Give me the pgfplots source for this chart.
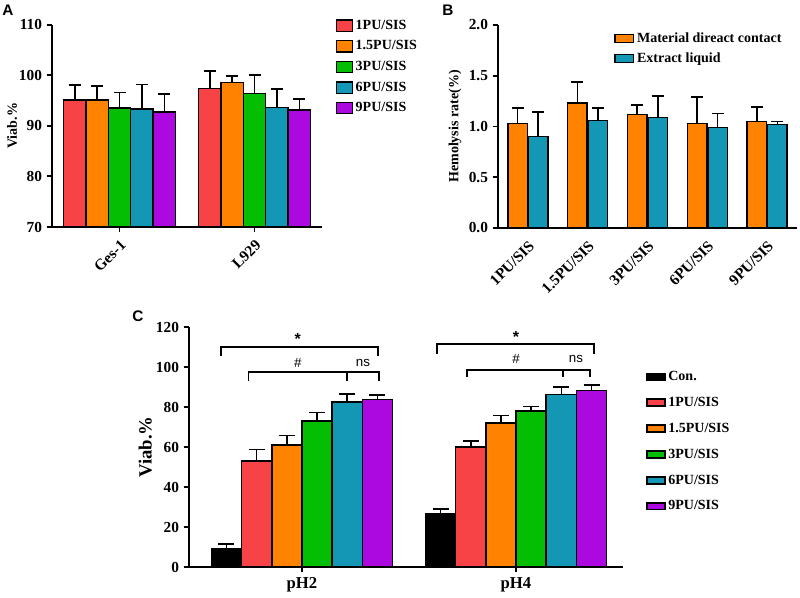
\documentclass[border=0pt]{standalone}
\usepackage{fontspec}
\setmainfont{Liberation Serif}
\newfontfamily\sansf{Liberation Sans}
\usepackage{pgfplots}
\pgfplotsset{compat=1.18}

\definecolor{cRed}{RGB}{248,67,70}
\definecolor{cOra}{RGB}{255,130,0}
\definecolor{cGre}{RGB}{3,190,3}
\definecolor{cTea}{RGB}{20,151,180}
\definecolor{cPur}{RGB}{172,8,224}

\pgfplotsset{
  panel/.style={
    scale only axis,
    axis lines*=left,
    axis line style={line width=1.5pt, black},
    tick style={line width=1.4pt, black},
    major tick length=4pt,
    tick align=outside,
    /pgf/number format/assume math mode=true,
    ticklabel style={font=\fontsize{11.5}{13}\selectfont\bfseries},
    label style={font=\fontsize{10.5}{12}\selectfont\bfseries},
    ybar=0pt,
    every axis plot/.append style={draw=black, line width=1.1pt},
    error bars/y dir=plus,
    error bars/y explicit,
    error bars/error bar style={line width=1.2pt, black},
    error bars/error mark options={line width=1.2pt, black, rotate=90, mark size=4.5pt},
    legend cell align=left,
    legend style={draw=none, fill=none, font=\fontsize{10.5}{12}\selectfont\bfseries},
  },
}

\begin{document}
\begin{tikzpicture}
\useasboundingbox (0,0) rectangle (600pt,-447.75pt);

% panel A
\begin{axis}[panel,
  at={(39pt,-170.25pt)}, anchor=south west,
  width=202.5pt, height=151.8pt,
  xmin=-0.5, xmax=1.5, ymin=70, ymax=110,
  ytick={70,80,90,100,110},
  xtick={0,1}, xticklabels={Ges-1,L929},
  xticklabel style={rotate=45, anchor=north east},
  bar width=16.8pt,
  ylabel={Viab.\%},
  ylabel style={at={(axis description cs:-0.148,0.5)}, anchor=center},
  legend style={at={(1.035,1.05)}, anchor=north west, row sep=3pt},
  legend image code/.code={\draw[#1, line width=1pt] (0pt,-4.25pt) rectangle (12pt,4.25pt);},
]
\addplot[fill=cRed] coordinates {(0,95.1) +- (0,3.0) (1,97.4) +- (0,3.4)};
\addplot[fill=cOra] coordinates {(0,95.1) +- (0,2.8) (1,98.6) +- (0,1.2)};
\addplot[fill=cGre] coordinates {(0,93.5) +- (0,3.1) (1,96.4) +- (0,3.6)};
\addplot[fill=cTea] coordinates {(0,93.3) +- (0,4.9) (1,93.6) +- (0,3.7)};
\addplot[fill=cPur] coordinates {(0,92.7) +- (0,3.6) (1,93.1) +- (0,2.2)};
\legend{1PU/SIS,1.5PU/SIS,3PU/SIS,6PU/SIS,9PU/SIS}
\end{axis}

% panel B
\begin{axis}[panel,
  at={(373.5pt,-171pt)}, anchor=south west,
  width=224.25pt, height=152.25pt,
  xmin=-0.5, xmax=4.5, ymin=0, ymax=2,
  ytick={0,0.5,1,1.5,2},
  yticklabel style={/pgf/number format/.cd, fixed, fixed zerofill, precision=1},
  xtick={0,1,2,3,4},
  xticklabels={1PU/SIS,1.5PU/SIS,3PU/SIS,6PU/SIS,9PU/SIS},
  xticklabel style={rotate=45, anchor=north east},
  x tick style={draw=none},
  bar width=14.6pt, ybar=0.75pt,
  ylabel={Hemolysis rate(\%)},
  ylabel style={at={(axis description cs:-0.144,0.5)}, anchor=center},
  legend style={at={(0.375,0.99)}, anchor=north west, row sep=2pt},
  legend image code/.code={\draw[#1, line width=1pt] (0pt,-3pt) rectangle (14pt,3pt);},
]
\addplot[fill=cOra] coordinates {(0,1.03) +- (0,0.15) (1,1.23) +- (0,0.21) (2,1.12) +- (0,0.09) (3,1.03) +- (0,0.26) (4,1.05) +- (0,0.14)};
\addplot[fill=cTea] coordinates {(0,0.90) +- (0,0.24) (1,1.06) +- (0,0.12) (2,1.09) +- (0,0.21) (3,0.99) +- (0,0.14) (4,1.02) +- (0,0.03)};
\legend{Material direact contact,Extract liquid}
\end{axis}

% panel C
\begin{axis}[panel,
  at={(141.75pt,-425.25pt)}, anchor=south west,
  width=325.5pt, height=180pt,
  xmin=-0.528, xmax=1.5, ymin=0, ymax=120,
  ytick={0,20,...,120},
  xtick={0,1}, xticklabels={pH2,pH4},
  xticklabel style={font=\fontsize{12.5}{14}\selectfont\bfseries},
  bar width=22.65pt,
  error bars/error mark options={line width=1.2pt, black, rotate=90, mark size=6pt},
  ylabel={Viab.\%},
  ylabel style={at={(axis description cs:-0.101,0.5)}, anchor=center, font=\fontsize{14}{16}\selectfont\bfseries},
  legend style={at={(1.044,0.84)}, anchor=north west, row sep=7pt},
  legend image code/.code={\draw[#1, line width=1pt] (0pt,-2.6pt) rectangle (13.5pt,2.6pt);},
]
\addplot[fill=black] coordinates {(0,9.0) +- (0,2.5) (1,26.8) +- (0,2.3)};
\addplot[fill=cRed] coordinates {(0,53.0) +- (0,5.7) (1,60.0) +- (0,3.0)};
\addplot[fill=cOra] coordinates {(0,61.0) +- (0,4.8) (1,72.0) +- (0,3.8)};
\addplot[fill=cGre] coordinates {(0,73.0) +- (0,4.2) (1,77.9) +- (0,2.4)};
\addplot[fill=cTea] coordinates {(0,82.5) +- (0,3.9) (1,86.2) +- (0,3.9)};
\addplot[fill=cPur] coordinates {(0,83.8) +- (0,2.3) (1,88.2) +- (0,2.8)};
\legend{Con.,1PU/SIS,1.5PU/SIS,3PU/SIS,6PU/SIS,9PU/SIS}
% significance brackets
\draw[line width=1.1pt] (axis cs:-0.378,105.5) |- (axis cs:0.355,110) -- (axis cs:0.355,105.5);
\draw[line width=1.1pt] (axis cs:-0.25,93) |- (axis cs:0.36,97.5) -- (axis cs:0.36,93);
\draw[line width=1.8pt] (axis cs:0.21,97.5) -- (axis cs:0.21,93);
\draw[line width=1.1pt] (axis cs:0.631,106.5) |- (axis cs:1.364,111.4) -- (axis cs:1.364,106.5);
\draw[line width=1.1pt] (axis cs:0.771,95) |- (axis cs:1.346,98.5) -- (axis cs:1.346,95);
\draw[line width=1.1pt] (axis cs:1.22,98.5) -- (axis cs:1.22,95);
\node[font=\sansf\bfseries\fontsize{12}{12}\selectfont] at (axis cs:-0.02,114) {*};
\node[font=\sansf\fontsize{10}{10}\selectfont] at (axis cs:-0.02,102) {\#};
\node[font=\sansf\fontsize{10}{10}\selectfont] at (axis cs:0.285,102) {ns};
\node[font=\sansf\bfseries\fontsize{12}{12}\selectfont] at (axis cs:1.0,115) {*};
\node[font=\sansf\fontsize{10}{10}\selectfont] at (axis cs:1.0,104) {\#};
\node[font=\sansf\fontsize{10}{10}\selectfont] at (axis cs:1.28,104) {ns};
\end{axis}

\node[font=\sansf\bfseries\fontsize{11.5}{12}\selectfont] at (6pt,-7.5pt) {A};
\node[font=\sansf\bfseries\fontsize{11.5}{12}\selectfont] at (336pt,-7.5pt) {B};
\node[font=\sansf\bfseries\fontsize{11.5}{12}\selectfont] at (103.5pt,-237pt) {C};
\end{tikzpicture}
\end{document}
